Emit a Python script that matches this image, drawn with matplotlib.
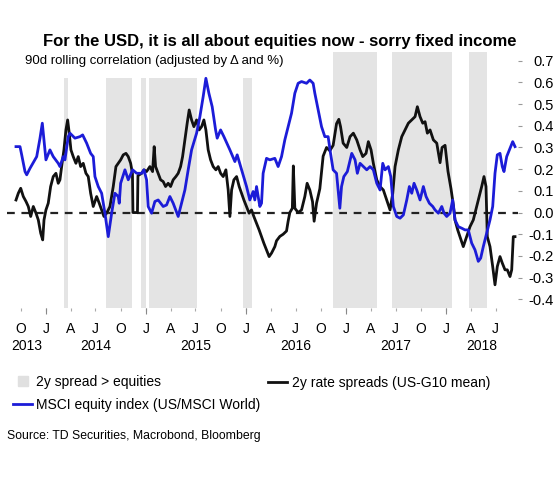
import matplotlib
matplotlib.use("Agg")
import matplotlib.pyplot as plt
from matplotlib.lines import Line2D
from matplotlib.patches import Rectangle
import pandas as pd

plt.rcParams['font.family'] = ['Liberation Sans', 'DejaVu Sans']
plt.rcParams['axes.unicode_minus'] = False

# time in decimal years
blue_t = [2013.700, 2013.740, 2013.757, 2013.790, 2013.807, 2013.840, 2013.907, 2013.940, 2013.963, 2013.980,
          2014.000, 2014.040, 2014.073, 2014.123, 2014.140, 2014.173, 2014.190, 2014.223, 2014.240, 2014.290,
          2014.340, 2014.367, 2014.407, 2014.447, 2014.473, 2014.490, 2014.523, 2014.557, 2014.590, 2014.623,
          2014.657, 2014.690, 2014.723, 2014.733, 2014.747, 2014.790, 2014.823, 2014.867, 2014.907, 2014.957,
          2014.980, 2015.007, 2015.023, 2015.057, 2015.090, 2015.123, 2015.173, 2015.207, 2015.240, 2015.273,
          2015.323, 2015.357, 2015.390, 2015.423, 2015.457, 2015.507, 2015.540, 2015.573, 2015.600, 2015.630,
          2015.663, 2015.697, 2015.713, 2015.747, 2015.780, 2015.840, 2015.890, 2015.913, 2015.957, 2016.007,
          2016.040, 2016.073, 2016.090, 2016.107, 2016.140, 2016.157, 2016.173, 2016.207, 2016.240, 2016.290,
          2016.323, 2016.357, 2016.390, 2016.423, 2016.457, 2016.490, 2016.523, 2016.557, 2016.607, 2016.640,
          2016.673, 2016.690, 2016.723, 2016.757, 2016.790, 2016.823, 2016.847, 2016.873, 2016.907, 2016.940,
          2016.957, 2016.980, 2017.013, 2017.057, 2017.090, 2017.113, 2017.140, 2017.173, 2017.207, 2017.240,
          2017.273, 2017.307, 2017.340, 2017.367, 2017.390, 2017.423, 2017.447, 2017.473, 2017.507, 2017.540,
          2017.573, 2017.607, 2017.633, 2017.657, 2017.680, 2017.707, 2017.740, 2017.773, 2017.800, 2017.833,
          2017.867, 2017.890, 2017.923, 2017.957, 2017.980, 2018.007, 2018.040, 2018.067, 2018.090, 2018.123,
          2018.157, 2018.190, 2018.223, 2018.257, 2018.290, 2018.323, 2018.347, 2018.373, 2018.407, 2018.440,
          2018.467, 2018.490, 2018.513, 2018.540, 2018.563, 2018.580, 2018.607, 2018.640, 2018.667, 2018.690]
blue_v = [0.304, 0.304, 0.266, 0.189, 0.174, 0.204, 0.258, 0.343, 0.412, 0.335,
          0.243, 0.289, 0.258, 0.227, 0.212, 0.258, 0.243, 0.350, 0.366, 0.343,
          0.350, 0.358, 0.320, 0.273, 0.258, 0.166, 0.120, 0.089, -0.003, -0.111,
          -0.003, 0.089, 0.074, 0.043, 0.135, 0.197, 0.151, 0.197, 0.181, 0.181,
          0.197, 0.151, 0.028, -0.003, 0.051, 0.058, 0.028, 0.035, 0.074, 0.043,
          -0.018, 0.043, 0.104, 0.197, 0.289, 0.366, 0.442, 0.535, 0.619, 0.550,
          0.488, 0.381, 0.343, 0.381, 0.350, 0.289, 0.235, 0.266, 0.197, 0.120,
          0.058, 0.097, 0.058, 0.120, 0.028, 0.043, 0.181, 0.250, 0.243, 0.250,
          0.212, 0.258, 0.335, 0.396, 0.458, 0.550, 0.596, 0.604, 0.596, 0.611,
          0.596, 0.550, 0.473, 0.396, 0.350, 0.350, 0.273, 0.197, 0.181, 0.020,
          0.120, 0.166, 0.189, 0.273, 0.243, 0.181, 0.227, 0.212, 0.197, 0.212,
          0.197, 0.135, 0.104, 0.227, 0.197, 0.212, 0.166, 0.028, -0.018, -0.026,
          -0.011, 0.058, 0.120, 0.089, 0.135, 0.104, 0.058, 0.120, 0.074, 0.043,
          0.028, 0.012, -0.003, 0.028, -0.003, -0.018, -0.003, 0.058, -0.034, -0.065,
          -0.072, -0.080, -0.080, -0.141, -0.172, -0.225, -0.210, -0.157, -0.095, -0.034,
          0.028, 0.181, 0.266, 0.273, 0.212, 0.189, 0.258, 0.296, 0.327, 0.304]

black_t = [2013.700, 2013.723, 2013.747, 2013.773, 2013.800, 2013.823, 2013.847, 2013.873, 2013.900, 2013.923,
           2013.947, 2013.967, 2013.980, 2014.000, 2014.023, 2014.047, 2014.073, 2014.100, 2014.123, 2014.140,
           2014.157, 2014.180, 2014.200, 2014.217, 2014.233, 2014.250, 2014.273, 2014.300, 2014.323, 2014.347,
           2014.373, 2014.400, 2014.423, 2014.447, 2014.473, 2014.507, 2014.533, 2014.557, 2014.580, 2014.607,
           2014.640, 2014.673, 2014.700, 2014.723, 2014.747, 2014.773, 2014.800, 2014.823, 2014.847, 2014.865,
           2014.870, 2014.915, 2014.920, 2014.957, 2014.980, 2015.007, 2015.040, 2015.067, 2015.083, 2015.097,
           2015.123, 2015.147, 2015.173, 2015.197, 2015.223, 2015.247, 2015.273, 2015.300, 2015.323, 2015.347,
           2015.367, 2015.390, 2015.413, 2015.433, 2015.457, 2015.480, 2015.507, 2015.533, 2015.557, 2015.580,
           2015.600, 2015.623, 2015.647, 2015.673, 2015.700, 2015.723, 2015.747, 2015.773, 2015.800, 2015.823,
           2015.840, 2015.857, 2015.880, 2015.907, 2015.933, 2015.957, 2015.980, 2016.007, 2016.033, 2016.057,
           2016.080, 2016.107, 2016.133, 2016.157, 2016.180, 2016.207, 2016.233, 2016.257, 2016.290, 2016.307,
           2016.340, 2016.373, 2016.407, 2016.423, 2016.440, 2016.465, 2016.475, 2016.490, 2016.523, 2016.557,
           2016.590, 2016.613, 2016.640, 2016.667, 2016.683, 2016.707, 2016.740, 2016.773, 2016.807, 2016.840,
           2016.873, 2016.907, 2016.930, 2016.947, 2016.973, 2017.007, 2017.040, 2017.073, 2017.107, 2017.140,
           2017.167, 2017.200, 2017.223, 2017.250, 2017.273, 2017.307, 2017.340, 2017.373, 2017.407, 2017.440,
           2017.467, 2017.490, 2017.523, 2017.557, 2017.590, 2017.623, 2017.657, 2017.690, 2017.713, 2017.740,
           2017.767, 2017.790, 2017.813, 2017.840, 2017.873, 2017.907, 2017.940, 2017.960, 2017.990, 2018.020,
           2018.050, 2018.075, 2018.090, 2018.117, 2018.140, 2018.173, 2018.207, 2018.240, 2018.273, 2018.307,
           2018.333, 2018.357, 2018.380, 2018.400, 2018.413, 2018.440, 2018.467, 2018.490, 2018.513, 2018.540,
           2018.563, 2018.590, 2018.613, 2018.640, 2018.657, 2018.673, 2018.690]
black_v = [0.058, 0.089, 0.112, 0.074, 0.051, 0.028, -0.018, 0.028, -0.003, -0.034,
           -0.095, -0.126, -0.034, 0.012, 0.043, 0.120, 0.166, 0.181, 0.135, 0.151,
           0.212, 0.289, 0.381, 0.427, 0.366, 0.289, 0.258, 0.227, 0.258, 0.212,
           0.227, 0.181, 0.166, 0.089, 0.028, 0.074, 0.043, 0.012, -0.018, -0.003,
           0.028, 0.120, 0.212, 0.227, 0.243, 0.266, 0.273, 0.258, 0.227, 0.180,
           0.000, 0.000, 0.170, 0.181, 0.197, 0.189, 0.212, 0.189, 0.304, 0.212,
           0.181, 0.151, 0.143, 0.120, 0.135, 0.120, 0.151, 0.166, 0.181, 0.212,
           0.258, 0.335, 0.412, 0.473, 0.427, 0.396, 0.427, 0.381, 0.396, 0.427,
           0.381, 0.289, 0.243, 0.212, 0.197, 0.212, 0.181, 0.166, 0.197, 0.104,
           -0.018, 0.104, 0.151, 0.166, 0.120, 0.089, 0.058, 0.028, -0.003, 0.012,
           -0.018, -0.049, -0.080, -0.111, -0.141, -0.172, -0.203, -0.187, -0.157, -0.130,
           -0.110, -0.100, -0.085, -0.040, 0.000, 0.020, 0.215, 0.020, 0.000, 0.012,
           0.074, 0.135, 0.104, 0.050, -0.040, 0.043, 0.110, 0.260, 0.300, 0.285,
           0.310, 0.410, 0.430, 0.396, 0.320, 0.300, 0.350, 0.366, 0.335, 0.289,
           0.258, 0.273, 0.327, 0.289, 0.227, 0.151, 0.120, 0.104, 0.058, 0.012,
           0.089, 0.212, 0.289, 0.350, 0.381, 0.412, 0.427, 0.442, 0.488, 0.442,
           0.412, 0.419, 0.366, 0.381, 0.335, 0.320, 0.230, 0.300, 0.310, 0.190,
           0.110, 0.030, -0.034, -0.080, -0.111, -0.157, -0.111, -0.065, -0.034, 0.028,
           0.074, 0.120, 0.166, 0.120, -0.111, -0.157, -0.249, -0.333, -0.249, -0.203,
           -0.233, -0.264, -0.264, -0.295, -0.264, -0.111, -0.111]

# periods where the 2y spread correlation beats equities
shade_start = ['2014-03-07', '2014-08-10', '2014-12-13', '2015-01-11',
               '2015-12-20', '2016-11-13', '2017-06-17', '2018-03-25']
shade_end = ['2014-03-22', '2014-11-13', '2014-12-31', '2015-07-05',
             '2016-01-22', '2017-04-23', '2018-01-22', '2018-05-30']

y_ticks = [-0.4, -0.3, -0.2, -0.1, 0.0, 0.1, 0.2, 0.3, 0.4, 0.5, 0.6, 0.7]
quarters = pd.date_range('2013-10-01', '2018-07-01', freq='QS')
month_letter = {1: 'J', 4: 'A', 7: 'J', 10: 'O'}


def to_dates(years):
    return [pd.Timestamp(int(y), 1, 1) + pd.Timedelta(days=(y - int(y)) * 365.25) for y in years]


fig = plt.figure(figsize=(5.6, 4.82), dpi=100)
ax = fig.add_axes([0.0125, 0.361, 0.9125, 0.531])

for s, e in zip(shade_start, shade_end):
    ax.axvspan(pd.Timestamp(s), pd.Timestamp(e), color='#e4e4e4', lw=0, zorder=0)

# white box behind the subtitle
ax.add_patch(Rectangle((0, 0.898), 0.575, 0.2, transform=ax.transAxes,
                       facecolor='white', edgecolor='none', zorder=1))

ax.axhline(0, color='#222222', lw=1.6, ls=(0, (3.5, 3)), zorder=2)
ax.plot(to_dates(black_t), black_v, color='#111111', lw=2.0, zorder=3)
ax.plot(to_dates(blue_t), blue_v, color='#1c1cd8', lw=2.0, zorder=4)

ax.set_xlim(to_dates([2013.61, 2018.72]))
ax.set_ylim(-0.44, 0.74)

for sp in ax.spines.values():
    sp.set_visible(False)

ax.yaxis.tick_right()
ax.set_yticks(y_ticks)
ax.set_yticklabels([f'{v:.1f}' for v in y_ticks])
ax.tick_params(axis='y', length=3, width=0.8, color='#999999', pad=23, labelsize=10.5)
for lab in ax.get_yticklabels():
    lab.set_horizontalalignment('right')

ax.xaxis.remove_overlapping_locs = False
ax.set_xticks(quarters)
ax.set_xticklabels([month_letter[d.month] for d in quarters])
ax.set_xticks([d for d in quarters if d.month == 1], minor=True)
ax.tick_params(axis='x', which='major', length=2, width=0.8, color='#aaaaaa', pad=8, labelsize=10)
ax.tick_params(axis='x', which='minor', length=4, width=0.8, color='#888888')

x0, x1 = ax.get_xlim()
for yr in range(2013, 2019):
    a = max(matplotlib.dates.date2num(pd.Timestamp(yr, 1, 1)), x0)
    b = min(matplotlib.dates.date2num(pd.Timestamp(yr + 1, 1, 1)), x1)
    ax.text((a + b) / 2, -0.148, str(yr), transform=ax.get_xaxis_transform(),
            ha='center', va='center', fontsize=10)

fig.text(0.5, 0.913, 'For the USD, it is all about equities now - sorry fixed income',
         ha='center', va='center', fontsize=12, fontweight='bold')
fig.text(0.045, 0.873, '90d rolling correlation (adjusted by Δ and %)',
         ha='left', va='center', fontsize=9.5)

h_grey = Line2D([], [], marker='s', ls='', markersize=7, color='#e0e0e0')
h_blue = Line2D([], [], color='#1c1cd8', lw=2.0)
h_black = Line2D([], [], color='#111111', lw=2.0)
fig.legend([h_grey, h_blue], ['2y spread > equities', 'MSCI equity index (US/MSCI World)'],
           loc='center left', bbox_to_anchor=(0.023, 0.1836), bbox_transform=fig.transFigure,
           frameon=False, fontsize=10, handlelength=1.4, handletextpad=0.3,
           borderpad=0, borderaxespad=0, labelspacing=0.6)
fig.legend([h_black], ['2y rate spreads (US-G10 mean)'],
           loc='center left', bbox_to_anchor=(0.4786, 0.2054), bbox_transform=fig.transFigure,
           frameon=False, fontsize=10, handlelength=1.4, handletextpad=0.3,
           borderpad=0, borderaxespad=0)

fig.text(0.0125, 0.095, 'Source: TD Securities, Macrobond, Bloomberg',
         ha='left', va='center', fontsize=8.8)

fig.savefig('out.png', dpi=100)
